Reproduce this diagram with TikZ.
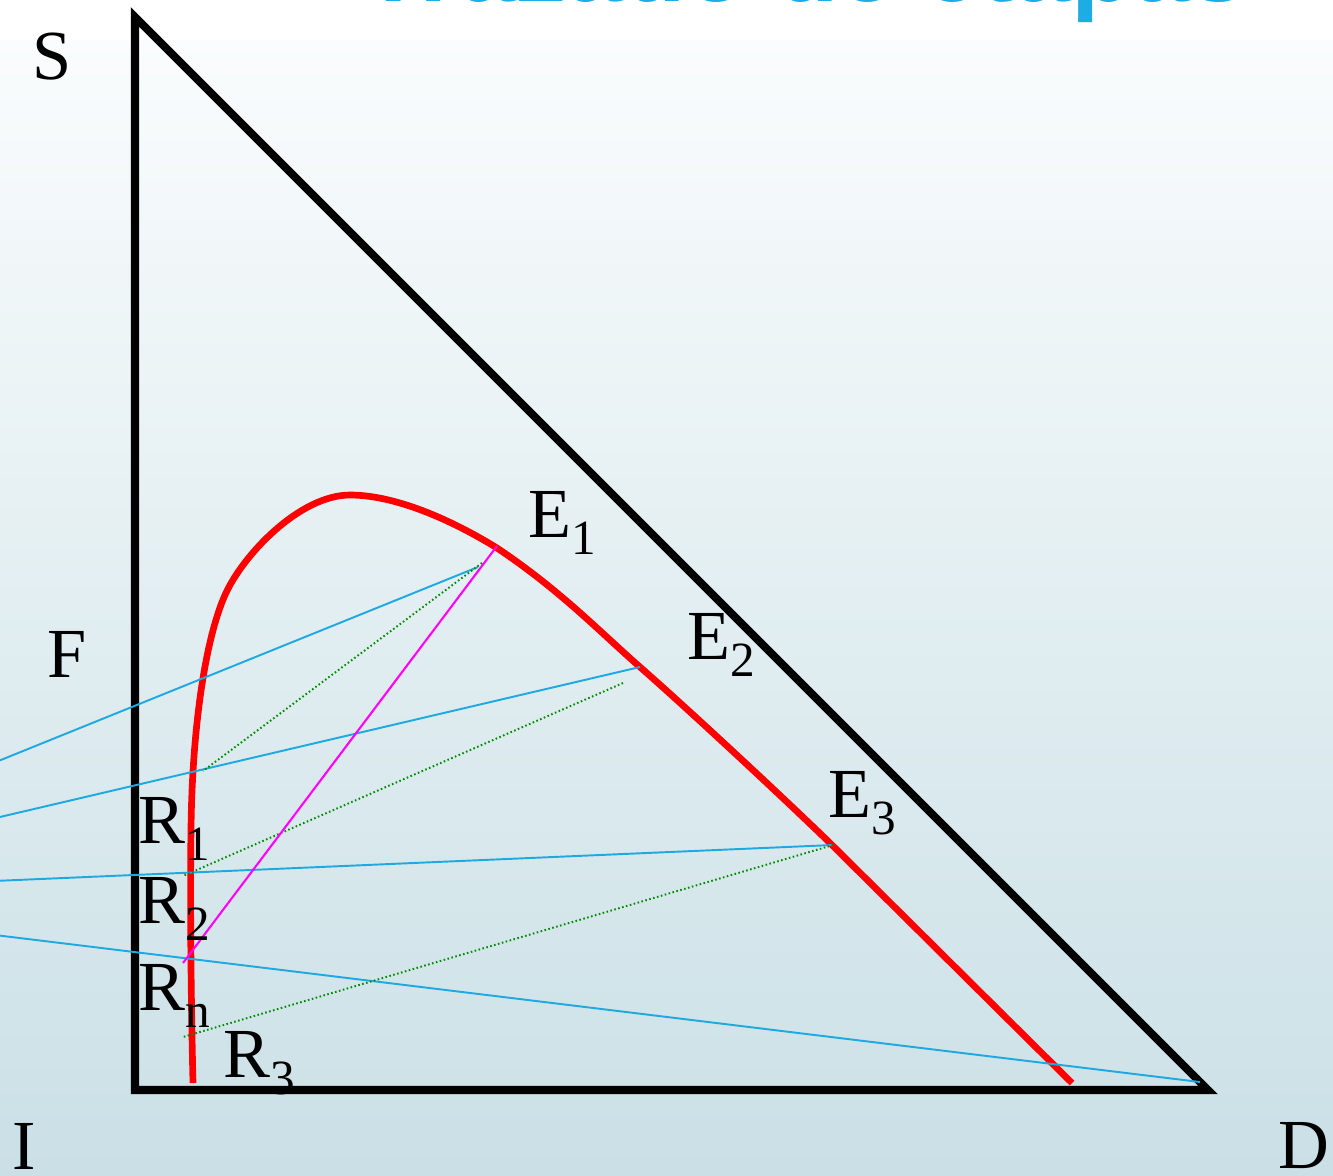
\documentclass[tikz,border=0pt]{standalone}
\usepackage{fontspec}
\setmainfont{Liberation Serif}
\newfontfamily\titlefont{Liberation Sans}
\usetikzlibrary{positioning}
\definecolor{tieblue}{RGB}{31,169,225}
\definecolor{titleblue}{RGB}{30,172,228}
\definecolor{dotgreen}{RGB}{0,140,0}
\definecolor{mixpink}{RGB}{255,0,255}
\definecolor{bgtop}{RGB}{250,252,253}
\definecolor{bgbottom}{RGB}{202,224,230}
\newcommand{\lowidx}[1]{\raisebox{-5pt}{\fontsize{14}{14}\selectfont #1}}

\begin{document}
\begin{tikzpicture}[x=0.01cm,y=-0.01cm,font=\fontsize{20}{24}\selectfont,
  lbl/.style={inner sep=0pt,anchor=base west},
  frame/.style={line width=2.3pt,line join=miter},
  equil/.style={red,line width=1.9pt},
  tieline/.style={tieblue,line width=0.55pt},
  opline/.style={dotgreen,line width=0.55pt,dash pattern=on 0.45pt off 0.7pt},
  mixline/.style={mixpink,line width=0.6pt}]
  \useasboundingbox (0,0) rectangle (1333,1175);
  \fill[white] (0,0) rectangle (1333,40);
  \shade[top color=bgtop,bottom color=bgbottom] (0,40) rectangle (1333,1175);
  \node[inner sep=0pt,anchor=base,text=titleblue,
    font=\titlefont\bfseries\fontsize{29}{34}\selectfont] (title) at (805,1) {Trazado de etapas};

  \coordinate (s) at (135,17);
  \coordinate (i) at (135,1090);
  \coordinate (d) at (1208,1090);
  \coordinate (delta) at (-333,895);
  \coordinate (e1) at (478,567);
  \coordinate (e2) at (640,667);
  \coordinate (e3) at (833,845);
  \coordinate (e4) at (1200,1082);
  \coordinate (m1) at (497,546);
  \coordinate (rn) at (183,963);
  \coordinate (g1a) at (482,563); \coordinate (g1b) at (203,771);
  \coordinate (g2a) at (623,683); \coordinate (g2b) at (183,876);
  \coordinate (g3a) at (833,845); \coordinate (g3b) at (183,1037);

  \draw[frame] (s)--(i)--(d)--cycle;
  \draw[equil] (193,1083) .. controls (191,1000) and (190,900) .. (191,830)
    .. controls (192,730) and (205,640) .. (225,595)
    .. controls (243,554.5) and (300,495) .. (350,495)
    .. controls (400,495) and (460,525) .. (497,548)
    .. controls (560,590) and (600,632) .. (640,667)
    .. controls (680,702) and (770,785) .. (830,843) -- (1072,1083);

  \foreach \e in {e1,e2,e3,e4} \draw[tieline] (\e)--(delta);
  \draw[opline] (g1a)--(g1b); \draw[opline] (g2a)--(g2b); \draw[opline] (g3a)--(g3b);
  \draw[mixline] (m1)--(rn);

  \node[lbl] (S) at (32,79) {S};
  \node[lbl] (F) at (47,677) {F};
  \node[lbl] (I) at (12,1169) {I};
  \node[lbl] (D) at (1278,1168) {D};
  \node[lbl] (E1) at (528,537) {E\lowidx{1}};
  \node[lbl] (E2) at (687,659) {E\lowidx{2}};
  \node[lbl] (E3) at (828,817) {E\lowidx{3}};
  \node[lbl] (R1) at (138,843) {R\lowidx{1}};
  \node[lbl] (R2) at (138,923) {R\lowidx{2}};
  \node[lbl] (Rn) at (138,1010) {R\lowidx{n}};
  \node[lbl] (R3) at (223,1077) {R\lowidx{3}};
\end{tikzpicture}
\end{document}
